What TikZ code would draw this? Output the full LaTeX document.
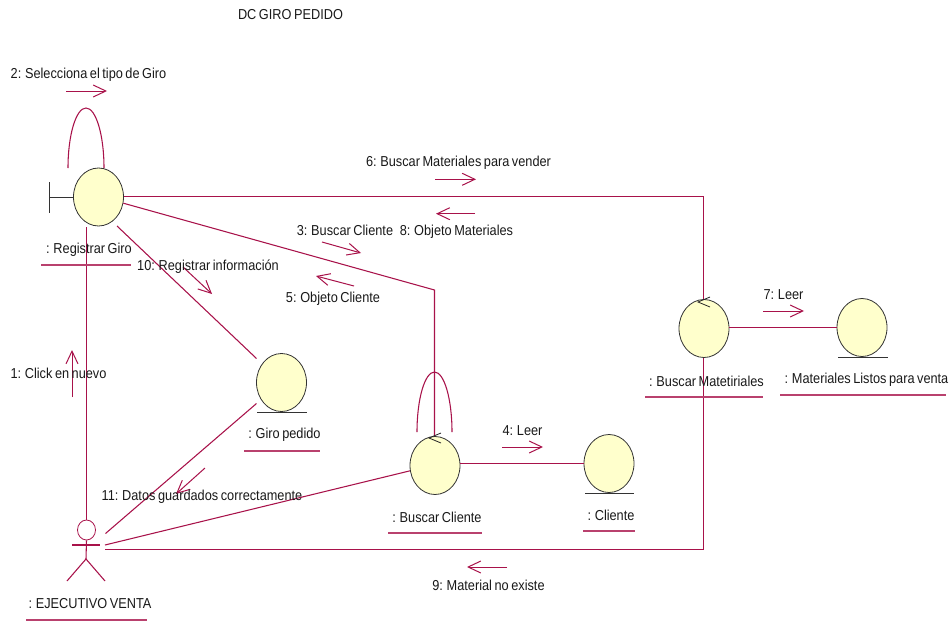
\documentclass[tikz,border=0pt]{standalone}
\usepackage{fontspec}
\setmainfont[FakeStretch=0.885,WordSpace=0.72]{Liberation Sans}
\usetikzlibrary{arrows.meta,shapes.geometric}
\definecolor{rose}{HTML}{A8124A}
\definecolor{objfill}{HTML}{FFFFCC}
\definecolor{objline}{HTML}{333333}
\tikzset{
  x=0.75pt,y=-0.75pt,
  obj/.style={draw=objline,fill=objfill,ellipse,inner sep=0pt,line width=0.6pt,minimum width=37.5pt,minimum height=43.5pt},
  lbl/.style={font=\fontsize{10.8pt}{12pt}\selectfont,text=black!90,inner sep=0pt,yshift=-1.2pt},
  link/.style={draw=rose,line width=0.8pt},
  msg/.style={draw=rose,line width=0.75pt,-{Straight Barb[length=9.5pt,width=9pt]}},
  uline/.style={draw=rose!80,line width=0.8pt},
  stereo/.style={draw=objline,line width=0.7pt},
  selftip/.style={draw=black!85,line width=0.6pt}
}
\begin{document}
\begin{tikzpicture}
\useasboundingbox (0,0) rectangle (952,621);
% free ends and bends
\coordinate (bendm) at (703.5,196.5);
\coordinate (bendc) at (434.5,290);
\coordinate (bendb) at (703.5,549.5);
\coordinate (a1) at (105.5,533.5);
\coordinate (a2) at (105,545);
\coordinate (a3) at (105,549.5);
\coordinate (rgs) at (117,226);
\coordinate (gpa) at (256.5,358.5);
\coordinate (gpb) at (256.5,403.5);
\coordinate (rgb) at (86.5,226.5);
\node[draw=rose,line width=0.6pt,ellipse,inner sep=0pt,minimum width=13.5pt,minimum height=15pt] (head) at (86.5,530) {};
% objects
\node[obj] (rg) at (98.5,197) {};
\node[obj] (gp) at (281.5,382.5) {};
\node[obj] (bc) at (435,465.5) {};
\node[obj] (cl) at (609,463.5) {};
\node[obj] (bm) at (704,328.5) {};
\node[obj] (ml) at (862,327.5) {};
% links
\draw[link] (head.north) -- (rgb);
\draw[link] (rg.east |- bendm) -- (bendm) -- (bm.north -| bendm);
\draw[link] (rg.-14) -- (bendc) -- (bc.north -| bendc);
\draw[link] (rgs) -- (gpa);
\draw[link] (a1) -- (gpb);
\draw[link] (a2) -- (bc.192);
\draw[link] (a3) -- (bendb) -- (bm.south -| bendb);
\draw[link] (bc.east |- cl.west) -- (cl.west);
\draw[link] (bm.east |- ml.west) -- (ml.west);
% self loops
\draw[link] (68,168) arc[start angle=180,end angle=360,x radius=18,y radius=60];
\draw[link] (417,432) arc[start angle=180,end angle=360,x radius=17.5,y radius=60];
% stereotypes
\draw[stereo] (rg.west) -- (49,197);
\draw[stereo] (49,182) -- (49,213);
\draw[stereo] (257,412.5) -- (307,412.5);
\draw[stereo] (585,493) -- (634,493);
\draw[stereo] (838,357) -- (888,357);
\draw[selftip] (441,433) -- (429,438) -- (441,443);
\draw[selftip] (710,297) -- (698,302) -- (710,307);
% actor
\draw[link] (head.south) -- (86,559);
\draw[link] (72,545) -- (100,545);
\draw[link] (67,581) -- (86,559) -- (105,581);
% messages
\draw[msg] (66,91) -- (107,91);
\draw[msg] (435,179.3) -- (476,179.3);
\draw[msg] (475,213.7) -- (436,213.7);
\draw[msg] (322,242) -- (361,253);
\draw[msg] (354,286) -- (316,276);
\draw[msg] (183,267) -- (212,294);
\draw[msg] (72,397) -- (72,350);
\draw[msg] (205,468) -- (176,494);
\draw[msg] (502,447) -- (543,447);
\draw[msg] (763,311) -- (804,311);
\draw[msg] (507,567) -- (467,567);
% underlines
\draw[uline] (41,265) -- (131,265);
\draw[uline] (244,451) -- (320,451);
\draw[uline] (388,533) -- (482,533);
\draw[uline] (583,531) -- (635,531);
\draw[uline] (645,397) -- (763,397);
\draw[uline] (780,395) -- (946,395);
\draw[uline] (26,620) -- (147,620);
% labels
\node[lbl] (t0) at (290.5,13) {DC GIRO PEDIDO};
\node[lbl] (t2) at (88.5,73) {2: Selecciona el tipo de Giro};
\node[lbl] (t6) at (458.5,161) {6: Buscar Materiales para vender};
\node[lbl] (t3) at (345,229) {3: Buscar Cliente};
\node[lbl] (t8) at (456.5,230) {8: Objeto Materiales};
\node[lbl] (t10) at (208,265) {10: Registrar información};
\node[lbl] (t5) at (333,297) {5: Objeto Cliente};
\node[lbl] (t1) at (58.5,372) {1: Click en nuevo};
\node[lbl] (t11) at (202,495) {11: Datos guardados correctamente};
\node[lbl] (t4) at (522.5,429) {4: Leer};
\node[lbl] (t7) at (783.5,293) {7: Leer};
\node[lbl] (t9) at (488.5,584) {9: Material no existe};
\node[lbl] (n1) at (89,248) {: Registrar Giro};
\node[lbl] (n2) at (284.5,433) {: Giro pedido};
\node[lbl] (n3) at (437,516) {: Buscar Cliente};
\node[lbl] (n4) at (611,514) {: Cliente};
\node[lbl] (n5) at (706.5,380) {: Buscar Matetiriales};
\node[lbl] (n6) at (866.5,378) {: Materiales Listos para venta};
\node[lbl] (n7) at (90,602) {: EJECUTIVO VENTA};
\end{tikzpicture}
\end{document}
